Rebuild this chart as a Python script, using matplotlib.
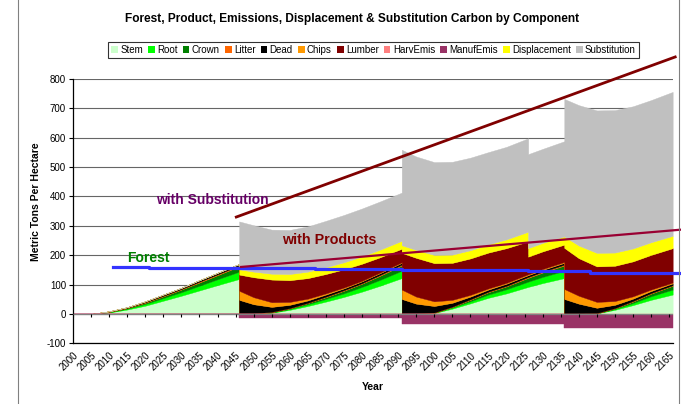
import matplotlib.pyplot as plt
from matplotlib.lines import Line2D
from matplotlib.patches import Patch

plt.rcParams["font.family"] = ["Liberation Sans", "DejaVu Sans"]

# Sample years; a repeated year marks a harvest (value before, value after).
YEARS = [2000, 2005, 2010, 2015, 2020, 2025, 2030, 2035, 2040, 2046,
         2046, 2050, 2055, 2060, 2065, 2070, 2075, 2080, 2085, 2091,
         2091, 2095, 2100, 2105, 2110, 2115, 2120, 2126,
         2126, 2130, 2136,
         2136, 2140, 2145, 2150, 2155, 2160, 2166]

STEM = [0, 0, 5, 15, 28, 45, 62, 80, 98, 119,
        0, 0, 4, 14, 27, 42, 58, 76, 96, 122,
        0, 0, 3, 18, 36, 55, 70, 92,
        92, 105, 122,
        0, 0, 2, 14, 30, 48, 66]
ROOT = [0, 0, 1, 3, 6, 9, 12, 16, 20, 25,
        0, 0, 1, 3, 6, 9, 12, 16, 20, 25,
        0, 0, 1, 4, 7, 11, 14, 18,
        18, 21, 25,
        0, 0, 0, 3, 7, 12, 17]
CROWN = [0, 0, 1, 2, 4, 6, 9, 11, 14, 18,
         0, 0, 1, 2, 4, 6, 9, 11, 14, 18,
         0, 0, 0, 2, 5, 8, 10, 13,
         13, 15, 18,
         0, 0, 0, 2, 5, 9, 13]
LITTER = [0, 0, 1, 1, 2, 2, 2, 3, 3, 3,
          2, 2, 1, 1, 1, 2, 2, 2, 3, 3,
          2, 2, 1, 1, 2, 2, 2, 3,
          3, 3, 3,
          2, 2, 1, 1, 2, 2, 2]
DEAD = [0, 0, 1, 2, 3, 4, 4, 5, 5, 5,
        46, 31, 17, 11, 8, 7, 6, 6, 6, 6,
        49, 33, 22, 13, 9, 7, 7, 6,
        6, 6, 6,
        49, 33, 18, 11, 8, 7, 6]
CHIPS = [0, 0, 0, 0, 0, 0, 0, 0, 0, 0,
         31, 24, 16, 10, 6, 4, 3, 2, 2, 2,
         32, 24, 16, 10, 6, 4, 3, 3,
         3, 3, 3,
         34, 27, 20, 13, 8, 5, 3]
LUMBER = [0, 0, 0, 0, 0, 0, 0, 0, 0, 0,
          55, 68, 77, 74, 70, 66, 62, 58, 52, 46,
          125, 132, 130, 126, 124, 122, 118, 112,
          60, 60, 59,
          140, 128, 121, 120, 119, 118, 117]
HARV_EMIS = [0, 0, 0, 0, 0, 0, 0, 0, 0, 0,
             -1, -1, -1, -1, -1, -1, -1, -1, -1, -1,
             -1, -1, -1, -1, -1, -1, -1, -1,
             -1, -1, -1,
             -2, -2, -2, -2, -2, -2, -2]
MANUF_EMIS = [0, 0, 0, 0, 0, 0, 0, 0, 0, 0,
              -14, -14, -14, -14, -14, -14, -14, -14, -14, -14,
              -32, -32, -32, -32, -32, -32, -32, -32,
              -32, -32, -32,
              -47, -47, -47, -47, -47, -47, -47]
DISPLACEMENT = [0, 0, 0, 0, 0, 0, 0, 0, 0, 0,
                18, 19, 20, 21, 22, 23, 24, 25, 26, 27,
                26, 27, 28, 28, 28, 28, 30, 33,
                29, 29, 28,
                39, 43, 46, 45, 44, 43, 42]
SUBSTITUTION = [0, 0, 0, 0, 0, 0, 0, 0, 0, 0,
                163, 158, 150, 150, 154, 158, 161, 163, 164, 164,
                325, 318, 316, 316, 315, 314, 315, 318,
                320, 320, 324,
                468, 478, 485, 485, 484, 484, 490]

SERIES_NAMES = ["Stem", "Root", "Crown", "Litter", "Dead", "Chips", "Lumber",
                "HarvEmis", "ManufEmis", "Displacement", "Substitution"]
SERIES_COLORS = {
    "Stem": "#CCFFCC", "Root": "#00FF00", "Crown": "#008000",
    "Litter": "#FF6600", "Dead": "#000000", "Chips": "#FF9900",
    "Lumber": "#800000", "HarvEmis": "#FF8080", "ManufEmis": "#993366",
    "Displacement": "#FFFF00", "Substitution": "#C0C0C0",
}

# hand-drawn trend lines on the original chart
SUBST_TREND_YEARS = [2045.2, 2166.7]
SUBST_TREND_VALUES = [330, 875]
PRODUCT_TREND_YEARS = [2046.5, 2168.3]
PRODUCT_TREND_VALUES = [160, 287]
FOREST_LINE_YEARS = [2011, 2021, 2021, 2046, 2046, 2067, 2067, 2091, 2091,
                     2099, 2099, 2126, 2126, 2143, 2143, 2168.3]
FOREST_LINE_VALUES = [160, 160, 158, 158, 156, 156, 153, 153, 151,
                      151, 148, 148, 145, 145, 141, 141]

TICK_YEARS = list(range(2000, 2166, 5))
Y_TICKS = list(range(-100, 801, 100))


def main() -> None:
    fig = plt.figure(figsize=(6.81, 4.04), dpi=100)
    ax = fig.add_axes([0.1072, 0.1502, 0.8811, 0.6543])

    positive = [("Stem", STEM), ("Root", ROOT), ("Crown", CROWN),
                ("Litter", LITTER), ("Dead", DEAD), ("Chips", CHIPS),
                ("Lumber", LUMBER), ("Displacement", DISPLACEMENT),
                ("Substitution", SUBSTITUTION)]
    negative = [("HarvEmis", HARV_EMIS), ("ManufEmis", MANUF_EMIS)]

    ax.stackplot(YEARS, *[v for _, v in positive],
                 colors=[SERIES_COLORS[n] for n, _ in positive],
                 edgecolor="face", linewidth=0.3, zorder=2)
    ax.stackplot(YEARS, *[v for _, v in negative],
                 colors=[SERIES_COLORS[n] for n, _ in negative],
                 edgecolor="face", linewidth=0.3, zorder=2)

    # category axis crosses at zero, labels sit at the bottom
    ax.axhline(0, color="#808080", linewidth=0.9, zorder=3)
    ax.vlines(TICK_YEARS, -9, 0, color="black", linewidth=0.8, zorder=4)

    ax.plot(FOREST_LINE_YEARS, FOREST_LINE_VALUES, color="#3333FF",
            linewidth=2.3, zorder=5, clip_on=False)
    ax.plot(PRODUCT_TREND_YEARS, PRODUCT_TREND_VALUES, color="#990033",
            linewidth=1.6, zorder=6, clip_on=False)
    ax.plot(SUBST_TREND_YEARS, SUBST_TREND_VALUES, color="#800000",
            linewidth=2.0, zorder=6, clip_on=False)

    ax.text(2038.5, 389, "with Substitution", color="#660066", fontsize=10,
            fontweight="bold", ha="center", va="center", zorder=7)
    ax.text(2071, 253, "with Products", color="#800000", fontsize=10.3,
            fontweight="bold", ha="center", va="center", zorder=7)
    ax.text(2021, 192, "Forest", color="#008000", fontsize=10,
            fontweight="bold", ha="center", va="center", zorder=7)

    ax.set_xlim(2000, 2166.1)
    ax.set_ylim(-100, 800)
    ax.set_yticks(Y_TICKS)
    ax.set_yticklabels([str(v) for v in Y_TICKS], fontsize=7)
    ax.tick_params(axis="y", length=3, width=0.8, pad=2)
    ax.set_xticks(TICK_YEARS)
    ax.set_xticklabels([str(y) for y in TICK_YEARS], fontsize=7,
                       rotation=45, ha="right", rotation_mode="anchor")
    ax.tick_params(axis="x", length=0, pad=5)

    ax.set_axisbelow(True)
    ax.grid(axis="y", color="#666666", linewidth=0.8)
    for side in ("top", "right"):
        ax.spines[side].set_visible(False)
    for side in ("left", "bottom"):
        ax.spines[side].set_linewidth(0.9)

    fig.text(0.5176, 1 - 19 / 404,
             "Forest, Product, Emissions, Displacement & Substitution Carbon by Component",
             fontsize=8.6, fontweight="bold", ha="center", va="center")
    fig.text(0.053, 0.5, "Metric Tons Per Hectare", fontsize=7.5,
             fontweight="bold", rotation=90, ha="center", va="center")
    fig.text(0.548, 1 - 387 / 404, "Year", fontsize=7.5, fontweight="bold",
             ha="center", va="center")

    handles = [Patch(facecolor=SERIES_COLORS[n], edgecolor="none")
               for n in SERIES_NAMES]
    leg = fig.legend(handles, SERIES_NAMES, loc="center",
                     bbox_to_anchor=(0.5485, 1 - 50 / 404), ncol=11,
                     fontsize=7, frameon=True, fancybox=False,
                     handlelength=0.7, handleheight=0.7, handletextpad=0.25,
                     columnspacing=0.5, borderpad=0.35)
    leg.get_frame().set_edgecolor("black")
    leg.get_frame().set_linewidth(0.8)

    for xpos in (18 / 681, 679 / 681):
        fig.add_artist(Line2D([xpos, xpos], [0, 1], transform=fig.transFigure,
                              color="#808080", linewidth=0.8))

    fig.savefig("out.png", dpi=100)
    plt.close(fig)


if __name__ == "__main__":
    main()
